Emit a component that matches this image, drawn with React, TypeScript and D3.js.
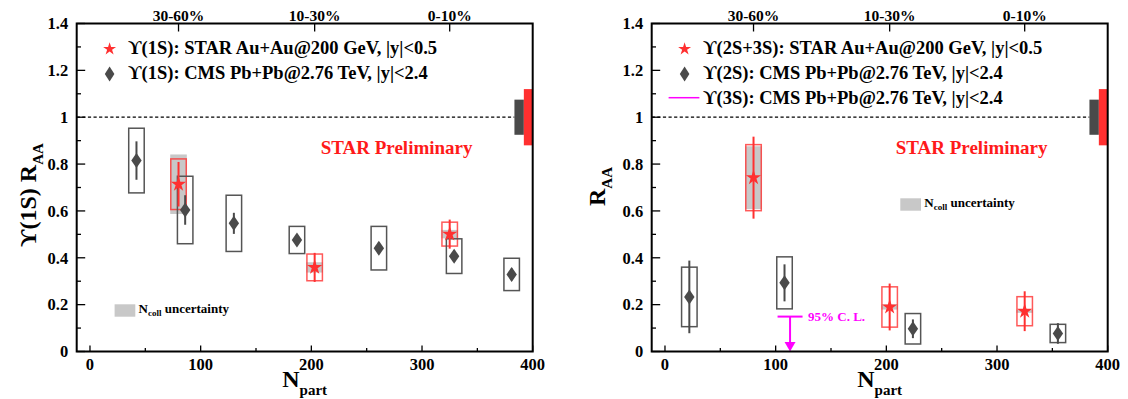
import React from "react";
import * as d3 from "d3";

// ---------- data ----------
const centralityLabels = ["30-60%", "10-30%", "0-10%"];
const centralityNpart = [80, 203, 325];

// Left panel: Upsilon(1S)
const star1sNpart = [80, 203, 325];
const star1sRaa = [0.714, 0.359, 0.501];
const star1sStat = [0.095, 0.062, 0.062];
const star1sSys = [0.108, 0.057, 0.051];
const star1sNcoll = [0.127, 0.022, 0.018];

const cms1sNpart = [42, 86, 130, 187, 261, 329, 381];
const cms1sRaa = [0.815, 0.604, 0.547, 0.476, 0.441, 0.407, 0.329];
const cms1sStat = [0.082, 0.063, 0.045, 0.025, 0.025, 0.025, 0.025];
const cms1sSys = [0.138, 0.144, 0.12, 0.058, 0.093, 0.074, 0.069];

// Right panel: Upsilon(2S+3S), 2S, 3S
const star23Npart = [80, 203, 325];
const star23Raa = [0.742, 0.19, 0.172];
const star23Stat = [0.175, 0.1, 0.085];
const star23Sys = [0.141, 0.086, 0.062];
const star23Ncoll = [0.134, 0.011, 0.007];

const cms2sNpart = [22, 108, 224, 355];
const cms2sRaa = [0.233, 0.293, 0.097, 0.077];
const cms2sStat = [0.155, 0.079, 0.04, 0.044];
const cms2sSys = [0.127, 0.111, 0.065, 0.039];

const cms3sNpart = [113];
const cms3sLimit = [0.149];

const globalCms = 0.075;
const globalStar = 0.12;

const yTicks = [0, 0.1, 0.2, 0.3, 0.4, 0.5, 0.6, 0.7, 0.8, 0.9, 1.0, 1.1, 1.2, 1.3, 1.4];
const xTicks = [0, 50, 100, 150, 200, 250, 300, 350, 400];

// ---------- style ----------
const FONT = "'Liberation Serif', 'Times New Roman', 'DejaVu Serif', serif";
const RED = "#ff3030";
const DARK = "#4a4a4a";
const BOXGRAY = "#555555";
const NCOLL = "#c8c8c8";
const MAGENTA = "#ff00ff";

const PW = 456;
const PH = 328;
const TOP = 23.5;

const starPath = (r: number) =>
  d3.symbol().type(d3.symbolStar).size((r * r) / 0.8908130915292852)() as string;
const diamondPath = (hw: number, hh: number) =>
  `M0,${-hh} L${hw},0 L0,${hh} L${-hw},0 Z`;

type Series = { npart: number[]; raa: number[]; stat: number[]; sys: number[]; ncoll?: number[] };

function Panel(props: {
  x0: number;
  star: Series;
  cms: Series;
  legend: string[];
  yTitle: React.ReactNode;
  yTitleX: number;
  yTitleY: number;
  ncollX: number;
  ncollY: number;
  limit?: boolean;
}) {
  const { x0, star, cms } = props;
  const x = d3.scaleLinear().domain([-12, 400]).range([0, PW]);
  const y = d3.scaleLinear().domain([0, 1.4]).range([PH, 0]);
  const hw = 7;
  const fmt = (v: number) => String(+v.toFixed(1));

  return (
    <g transform={`translate(${x0},${TOP})`} fontFamily={FONT} fontWeight="bold">
      {/* dashed unity line */}
      <line x1={0} x2={x(383.5)} y1={y(1)} y2={y(1)} stroke="#000" strokeWidth={1.3} strokeDasharray="3.2,2.4" />
      {/* global uncertainties */}
      <rect x={x(383.5)} width={x(392) - x(383.5)} y={y(1 + globalCms)} height={y(1 - globalCms) - y(1 + globalCms)} fill={DARK} />
      <rect x={x(392)} width={x(400) - x(392)} y={y(1 + globalStar)} height={y(1 - globalStar) - y(1 + globalStar)} fill={RED} />

      {/* Ncoll boxes */}
      {star.npart.map((n, i) => (
        <rect key={"nc" + i} x={x(n - 7.5)} width={x(n + 7.5) - x(n - 7.5)}
          y={y(star.raa[i] + star.ncoll![i])} height={y(star.raa[i] - star.ncoll![i]) - y(star.raa[i] + star.ncoll![i])}
          fill={NCOLL} />
      ))}
      {/* STAR sys boxes */}
      {star.npart.map((n, i) => (
        <rect key={"ss" + i} x={x(n - hw)} width={x(n + hw) - x(n - hw)}
          y={y(star.raa[i] + star.sys[i])} height={y(star.raa[i] - star.sys[i]) - y(star.raa[i] + star.sys[i])}
          fill="none" stroke={RED} strokeOpacity={0.8} strokeWidth={1.5} />
      ))}
      {/* CMS sys boxes */}
      {cms.npart.map((n, i) => (
        <rect key={"cs" + i} x={x(n - hw)} width={x(n + hw) - x(n - hw)}
          y={y(cms.raa[i] + cms.sys[i])} height={y(cms.raa[i] - cms.sys[i]) - y(cms.raa[i] + cms.sys[i])}
          fill="none" stroke={BOXGRAY} strokeWidth={1.5} />
      ))}
      {/* CMS stat + markers */}
      {cms.npart.map((n, i) => (
        <g key={"cm" + i}>
          <line x1={x(n)} x2={x(n)} y1={y(cms.raa[i] + cms.stat[i])} y2={y(cms.raa[i] - cms.stat[i])} stroke={DARK} strokeWidth={2} />
          <path d={diamondPath(5.2, 7.5)} transform={`translate(${x(n)},${y(cms.raa[i])})`} fill={DARK} />
        </g>
      ))}
      {/* STAR stat + markers */}
      {star.npart.map((n, i) => (
        <g key={"sm" + i}>
          <line x1={x(n)} x2={x(n)} y1={y(star.raa[i] + star.stat[i])} y2={y(star.raa[i] - star.stat[i])} stroke={RED} strokeWidth={2} />
          <path d={starPath(8)} transform={`translate(${x(n)},${y(star.raa[i])})`} fill={RED} />
        </g>
      ))}

      {/* 95% CL upper limit */}
      {props.limit && cms3sNpart.map((n, i) => (
        <g key={"lim" + i}>
          <line x1={x(n) - 12.5} x2={x(n) + 12.5} y1={y(cms3sLimit[i])} y2={y(cms3sLimit[i])} stroke={MAGENTA} strokeWidth={2} />
          <line x1={x(n)} x2={x(n)} y1={y(cms3sLimit[i])} y2={PH - 9} stroke={MAGENTA} strokeWidth={2} />
          <path d={`M${x(n) - 5.5},${PH - 9.5} L${x(n) + 5.5},${PH - 9.5} L${x(n)},${PH} Z`} fill={MAGENTA} />
          <text x={x(n) + 18} y={y(cms3sLimit[i]) + 4.5} fontSize={13} fill={MAGENTA}>95% C. L.</text>
        </g>
      ))}

      {/* frame */}
      <rect x={0} y={0} width={PW} height={PH} fill="none" stroke="#000" strokeWidth={2} />
      {/* y ticks */}
      {yTicks.map((t, i) => (
        <line key={"yt" + i} x1={0} x2={i % 2 === 0 ? 8.5 : 4.3} y1={y(t)} y2={y(t)} stroke="#000" strokeWidth={1.3} />
      ))}
      {yTicks.filter((_, i) => i % 2 === 0).map((t, i) => (
        <text key={"yl" + i} x={-8.5} y={y(t) + 5.8} textAnchor="end" fontSize={16.5}>{fmt(t)}</text>
      ))}
      {/* x ticks */}
      {xTicks.map((t, i) => (
        <line key={"xt" + i} x1={x(t)} x2={x(t)} y1={PH} y2={PH - (i % 2 === 0 ? 6 : 3.5)} stroke="#000" strokeWidth={1.3} />
      ))}
      {xTicks.filter((_, i) => i % 2 === 0).map((t, i) => (
        <text key={"xl" + i} x={x(t)} y={PH + 18.5} textAnchor="middle" fontSize={16.5}>{t}</text>
      ))}
      {/* top centrality ticks */}
      {centralityNpart.map((n, i) => (
        <g key={"ct" + i}>
          <line x1={x(n)} x2={x(n)} y1={0} y2={8} stroke="#000" strokeWidth={1.3} />
          <text x={x(n)} y={-3} textAnchor="middle" fontSize={15.5}>{centralityLabels[i]}</text>
        </g>
      ))}

      {/* axis titles */}
      <text x={PW / 2} y={PH + 35.5} textAnchor="middle" fontSize={24}>
        N<tspan fontSize={15} dy={8}>part</tspan>
      </text>
      <text transform={`translate(${props.yTitleX},${props.yTitleY}) rotate(-90)`} textAnchor="middle" fontSize={24}>
        {props.yTitle}
      </text>

      {/* legend */}
      <path d={starPath(6.8)} transform={`translate(32.9,25.5)`} fill={RED} />
      <text x={51.5} y={30.8} fontSize={18.5}>{props.legend[0]}</text>
      <path d={diamondPath(4.8, 7.5)} transform={`translate(32.9,50.5)`} fill={DARK} />
      <text x={51.5} y={55.8} fontSize={18.5}>{props.legend[1]}</text>
      {props.legend[2] && (
        <g>
          <line x1={16.9} x2={47.7} y1={74.2} y2={74.2} stroke={MAGENTA} strokeWidth={1.5} />
          <text x={51.5} y={80.3} fontSize={18.5}>{props.legend[2]}</text>
        </g>
      )}

      {/* STAR Preliminary */}
      <text x={244} y={130.5} fontSize={19} fill="#ff1a1a">STAR Preliminary</text>

      {/* Ncoll legend */}
      <rect x={props.ncollX} y={props.ncollY} width={20.7} height={12.4} fill={NCOLL} />
      <text x={props.ncollX + 24} y={props.ncollY + 9} fontSize={13}>
        N<tspan fontSize={9} dy={3}>coll</tspan><tspan dy={-3}> uncertainty</tspan>
      </text>
    </g>
  );
}

export default function App() {
  return (
    <svg width={1128} height={399} style={{ position: "absolute", left: 0, top: 0, background: "#fff" }}>
      <rect width={1128} height={399} fill="#fff" />
      <Panel
        x0={76.7}
        star={{ npart: star1sNpart, raa: star1sRaa, stat: star1sStat, sys: star1sSys, ncoll: star1sNcoll }}
        cms={{ npart: cms1sNpart, raa: cms1sRaa, stat: cms1sStat, sys: cms1sSys }}
        legend={["\u03D2(1S): STAR Au+Au@200 GeV, |y|<0.5", "\u03D2(1S): CMS Pb+Pb@2.76 TeV, |y|<2.4"]}
        yTitle={<>{"\u03D2(1S) R"}<tspan fontSize={15} dy={7}>AA</tspan></>}
        yTitleX={-40.7}
        yTitleY={171.5}
        ncollX={37.9}
        ncollY={280.8}
      />
      <Panel
        x0={651.7}
        star={{ npart: star23Npart, raa: star23Raa, stat: star23Stat, sys: star23Sys, ncoll: star23Ncoll }}
        cms={{ npart: cms2sNpart, raa: cms2sRaa, stat: cms2sStat, sys: cms2sSys }}
        legend={[
          "\u03D2(2S+3S): STAR Au+Au@200 GeV, |y|<0.5",
          "\u03D2(2S): CMS Pb+Pb@2.76 TeV, |y|<2.4",
          "\u03D2(3S): CMS Pb+Pb@2.76 TeV, |y|<2.4",
        ]}
        yTitle={<>{"R"}<tspan fontSize={15} dy={7}>AA</tspan></>}
        yTitleX={-46.7}
        yTitleY={163}
        ncollX={248.6}
        ncollY={174.8}
        limit
      />
    </svg>
  );
}
